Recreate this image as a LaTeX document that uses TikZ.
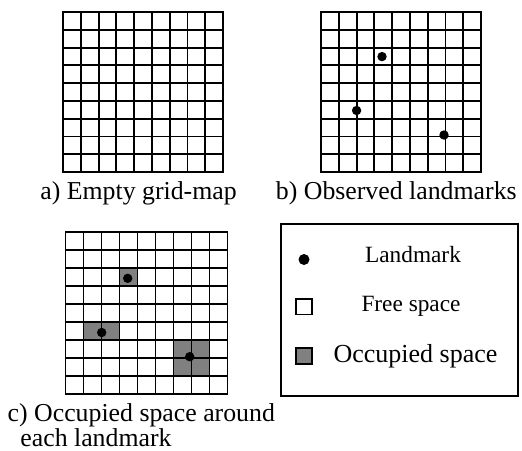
\documentclass[tikz,border=0pt]{standalone}
\usepackage{fontspec}
\setmainfont{Liberation Serif}
\definecolor{occ}{RGB}{128,128,128}
\newcommand\gridmap[3]{% x0, y0, cell
  \foreach \i in {0,...,9}{%
    \draw[gridline] ({#1+\i*#3},{#2}) -- ({#1+\i*#3},{#2+9*#3});
    \draw[gridline] ({#1},{#2+\i*#3}) -- ({#1+9*#3},{#2+\i*#3});
  }}
\tikzset{
  gridline/.style={line width=0.95pt, line cap=rect},
  dot/.style={circle, fill=black, inner sep=0pt, minimum size=4.7pt},
  legdot/.style={circle, fill=black, inner sep=0pt, minimum size=5.5pt},
  legsq/.style={draw, line width=0.75pt, inner sep=0pt, minimum size=7.8pt},
  caption/.style={inner sep=0pt, anchor=base, font=\fontsize{12.9pt}{15pt}\selectfont},
  legtext/.style={inner sep=0pt, anchor=base, font=\fontsize{11.65pt}{14pt}\selectfont},
}
\begin{document}
\begin{tikzpicture}[x=0.5pt, y=-0.5pt]
\useasboundingbox (0,0) rectangle (522,450);
% grid a
\gridmap{63}{12}{17.78}
\node[caption] (capa) at (138.5,199) {a) Empty grid-map};
% grid b
\gridmap{321}{12}{17.78}
\node[dot] (b1) at (382,56.6) {};
\node[dot] (b2) at (356.6,110.5) {};
\node[dot] (b3) at (444,135) {};
\node[caption] (capb) at (396.3,199) {b) Observed landmarks};
% grid c
\fill[occ] ({65.5+3*18},{232+2*18}) rectangle ++(18,18);
\fill[occ] ({65.5+1*18},{232+5*18}) rectangle ++(36,18);
\fill[occ] ({65.5+6*18},{232+6*18}) rectangle ++(36,36);
\gridmap{65.5}{232}{18}
\node[dot] (c1) at (127.7,278.3) {};
\node[dot] (c2) at (101.7,332.5) {};
\node[dot] (c3) at (189.7,356.7) {};
\node[caption, anchor=base west] (capc1) at (7.3,421) {c) Occupied space around};
\node[caption, anchor=base west] (capc2) at (20,446) {each landmark};
% legend
\draw[line width=0.7pt] (281,224) rectangle (518,396);
\node[legdot] (ldot) at (304,259.5) {};
\node[legtext] (ltxt1) at (413,262.7) {Landmark};
\node[legsq] (lfree) at (304,306.7) {};
\node[legtext] (ltxt2) at (411,311.7) {Free space};
\node[legsq, fill=occ] (locc) at (304,356) {};
\node[legtext, font=\fontsize{13pt}{15pt}\selectfont] (ltxt3) at (415.5,362.7) {Occupied space};
\end{tikzpicture}
\end{document}
